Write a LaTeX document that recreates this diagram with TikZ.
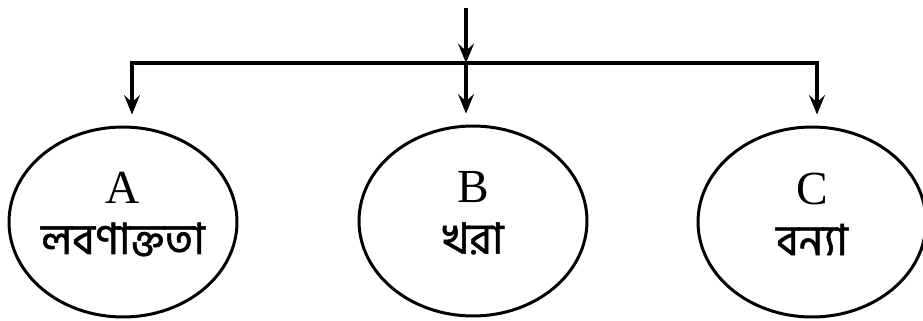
\documentclass[tikz,border=0pt]{standalone}
\usepackage{fontspec}
\setmainfont{Liberation Serif}
\newfontfamily\bnfont[Script=Bengali, FakeBold=1.2]{Hind Siliguri}
\usepackage{tikz}
\usetikzlibrary{arrows.meta}
\usetikzlibrary{shapes.geometric}

\tikzset{
	zone/.style={draw, ellipse, line width=1.7pt, minimum width=4.56cm, minimum height=3.8cm, inner sep=0pt},
	tag/.style={align=center, font=\fontsize{27}{28}\selectfont, yshift=0.16cm},
	bar/.style={line width=2.2pt, line cap=rect},
	flow/.style={line width=2.2pt, -{Stealth[length=11pt,width=9pt,inset=4pt]}},
}

\begin{document}
\begin{tikzpicture}[x=0.02cm, y=-0.02cm]
		\useasboundingbox (0,0) rectangle (923,321);
		\node[zone, label={[tag]center:A\\[1pt]{\bnfont\fontsize{24.5}{28}\selectfont লবণাক্ততা}}] (a) at (123,222) {};
		\node[zone, label={[tag]center:B\\[1pt]{\bnfont\fontsize{24.5}{28}\selectfont খরা}}] (b) at (473,221) {};
		\node[zone, label={[tag]center:C\\[1pt]{\bnfont\fontsize{24.5}{28}\selectfont বন্যা}}] (c) at (812,222) {};
		
		\coordinate (top) at (466,8);
		\coordinate (mid) at (466,63);
		\coordinate (left) at (132,63);
		\coordinate (right) at (817,63);
		
		\draw[bar] (left) -- (right);
		\draw[flow] (top) -- (mid);
		\draw[flow, shorten >=0.22cm] (left) -- (left |- a.north);
		\draw[flow, shorten >=0.22cm] (mid) -- (mid |- b.north);
		\draw[flow, shorten >=0.22cm] (right) -- (right |- c.north);
	\end{tikzpicture}
\end{document}
